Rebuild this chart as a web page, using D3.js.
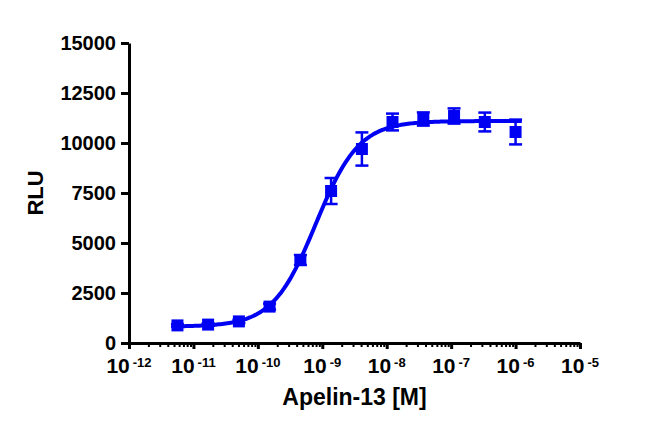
<!DOCTYPE html>
<html>
<head>
<meta charset="utf-8">
<script src="https://cdn.jsdelivr.net/npm/d3@7"></script>
<style>
  html, body { margin: 0; padding: 0; background: #fff; }
  svg { display: block; }
  text { font-family: "Liberation Sans", Arial, sans-serif; font-weight: bold; fill: #000; }
</style>
</head>
<body>
<script>
// ---- data ----
const concentrations = [5.65e-12, 1.69e-11, 5.08e-11, 1.52e-10, 4.57e-10, 1.37e-9, 4.12e-9, 1.23e-8, 3.70e-8, 1.11e-7, 3.33e-7, 1.0e-6];
const rluMean = [880, 920, 1080, 1820, 4150, 7600, 9700, 11050, 11200, 11350, 11050, 10550];
const rluErr  = [60, 60, 80, 150, 250, 650, 830, 420, 330, 380, 470, 620];
const xTickExponents = [-12, -11, -10, -9, -8, -7, -6, -5];
const yTicks = [0, 2500, 5000, 7500, 10000, 12500, 15000];
// four-parameter logistic fit (Bottom, Top, logEC50, HillSlope)
const fitBottom = 820, fitTop = 11100, fitLogEC50 = -9.1, fitHill = 1.3;
const fitRange = [5.65e-12, 1.25e-6];

const W = 650, H = 437;
const margin = { left: 129, right: 70, top: 43, bottom: 94 };
const blue = "#0000f2";

const svg = d3.select("body").append("svg").attr("width", W).attr("height", H);

const x = d3.scaleLog().domain([1e-12, 1e-5]).range([margin.left, W - margin.right]);
const y = d3.scaleLinear().domain([0, 15000]).range([H - margin.bottom, margin.top]);

// ---- y axis ----
const yAxis = svg.append("g")
  .attr("transform", `translate(${margin.left},0)`)
  .call(d3.axisLeft(y).tickValues(yTicks).tickSize(8).tickSizeOuter(0).tickPadding(5).tickFormat(d3.format("d")));
yAxis.select(".domain").attr("stroke", "#000").attr("stroke-width", 3);
yAxis.selectAll(".tick line").attr("stroke", "#000").attr("stroke-width", 3);
yAxis.selectAll(".tick text").attr("font-size", 20).attr("font-family", "Liberation Sans, Arial, sans-serif").attr("font-weight", "bold").attr("fill", "#000");

// ---- x axis ----
const majors = xTickExponents.map(e => Math.pow(10, e));
const minors = [];
for (let e = -12; e < -5; e++) for (let m = 2; m <= 9; m++) minors.push(m * Math.pow(10, e));

const xAxis = svg.append("g")
  .attr("transform", `translate(0,${H - margin.bottom})`)
  .call(d3.axisBottom(x).tickValues(majors).tickSize(6).tickSizeOuter(0).tickFormat(""));
xAxis.select(".domain").attr("stroke", "#000").attr("stroke-width", 3);
xAxis.selectAll(".tick line").attr("stroke", "#000").attr("stroke-width", 3);

const xMinor = svg.append("g")
  .attr("transform", `translate(0,${H - margin.bottom})`)
  .call(d3.axisBottom(x).tickValues(minors).tickSize(4).tickSizeOuter(0).tickFormat(""));
xMinor.select(".domain").remove();
xMinor.selectAll(".tick line").attr("stroke", "#000").attr("stroke-width", 2);

const xLabels = svg.append("g").selectAll("text").data(xTickExponents).join("text")
  .attr("x", e => x(Math.pow(10, e)))
  .attr("y", H - margin.bottom + 30)
  .attr("text-anchor", "middle")
  .attr("font-size", 21);
xLabels.append("tspan").text("10");
xLabels.append("tspan").attr("font-size", 13).attr("dx", 3).attr("dy", -6).text(e => String(e));

// ---- axis titles ----
svg.append("text")
  .attr("x", (margin.left + W - margin.right) / 2)
  .attr("y", 405)
  .attr("text-anchor", "middle")
  .attr("font-size", 23)
  .text("Apelin-13 [M]");

svg.append("text")
  .attr("transform", `translate(43,${(margin.top + H - margin.bottom) / 2}) rotate(-90)`)
  .attr("text-anchor", "middle")
  .attr("font-size", 22)
  .text("RLU");

// ---- fitted curve ----
const logLo = Math.log10(fitRange[0]), logHi = Math.log10(fitRange[1]);
const curvePts = d3.range(0, 201).map(i => {
  const lx = logLo + (logHi - logLo) * i / 200;
  const v = fitBottom + (fitTop - fitBottom) / (1 + Math.pow(10, (fitLogEC50 - lx) * fitHill));
  return [Math.pow(10, lx), v];
});
svg.append("path")
  .datum(curvePts)
  .attr("fill", "none")
  .attr("stroke", blue)
  .attr("stroke-width", 4)
  .attr("d", d3.line().x(d => x(d[0])).y(d => y(d[1])));

// ---- error bars ----
const data = concentrations.map((c, i) => ({ c, m: rluMean[i], e: rluErr[i] }));
const eb = svg.append("g").attr("stroke", blue).attr("stroke-width", 2.5);
eb.selectAll("line.v").data(data).join("line")
  .attr("x1", d => x(d.c)).attr("x2", d => x(d.c))
  .attr("y1", d => y(d.m + d.e)).attr("y2", d => y(d.m - d.e));
eb.selectAll("line.t").data(data).join("line")
  .attr("x1", d => x(d.c) - 6.5).attr("x2", d => x(d.c) + 6.5)
  .attr("y1", d => y(d.m + d.e)).attr("y2", d => y(d.m + d.e));
eb.selectAll("line.b").data(data).join("line")
  .attr("x1", d => x(d.c) - 6.5).attr("x2", d => x(d.c) + 6.5)
  .attr("y1", d => y(d.m - d.e)).attr("y2", d => y(d.m - d.e));

// ---- markers ----
const s = 12;
svg.append("g").selectAll("rect").data(data).join("rect")
  .attr("x", d => x(d.c) - s / 2)
  .attr("y", d => y(d.m) - s / 2)
  .attr("width", s).attr("height", s)
  .attr("fill", blue);
</script>
</body>
</html>
